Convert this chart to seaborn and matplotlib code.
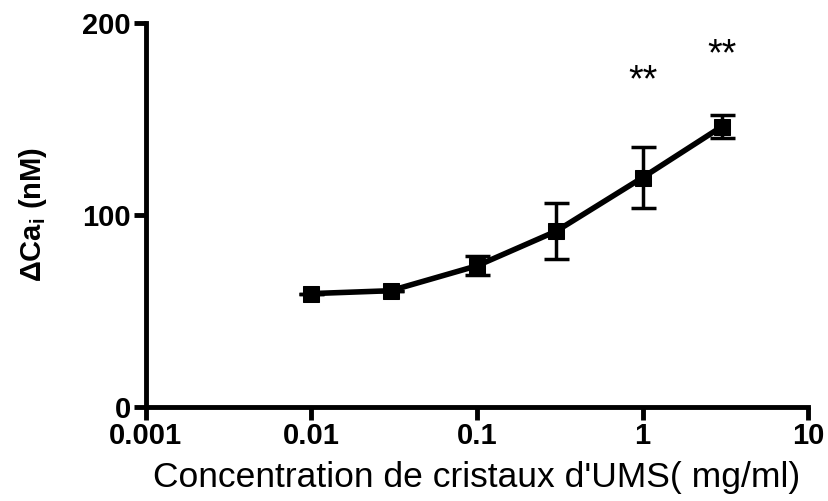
import matplotlib
matplotlib.use("Agg")
import matplotlib.pyplot as plt
import seaborn as sns
import pandas as pd
import numpy as np

conc = [0.01, 0.03, 0.1, 0.3, 1, 3]
mean_ca = [59, 60.5, 73.5, 91.5, 119.5, 146]
sem_ca = [0, 0, 5, 14.5, 16, 6]
stars_x = [1, 3]
stars_label = ["**", "**"]
stars_y = [169.5, 183]

sns.set_style("ticks")
plt.rcParams['font.family'] = ['Liberation Sans', 'DejaVu Sans']
plt.rcParams['mathtext.default'] = 'regular'

df = pd.DataFrame({"conc": conc, "ca": mean_ca, "sem": sem_ca})

fig = plt.figure(figsize=(8.29, 5.01), dpi=100)
ax = fig.add_axes([0.176, 0.188, 0.799, 0.766])

ax.errorbar(df["conc"], df["ca"], yerr=df["sem"], fmt="none", ecolor="black",
            elinewidth=2.5, capsize=9, capthick=2.5, zorder=2)
sns.lineplot(data=df, x="conc", y="ca", ax=ax, color="black", linewidth=4,
             marker="s", markersize=11, markeredgecolor="black", zorder=3)

ax.set_xscale("log")
ax.set_xlim(0.001, 10)
ax.set_ylim(0, 200)
ax.set_xticks([0.001, 0.01, 0.1, 1, 10])
ax.set_xticklabels(["0.001", "0.01", "0.1", "1", "10"])
ax.minorticks_off()
ax.set_yticks([0, 100, 200])

for sx, sl, sy in zip(stars_x, stars_label, stars_y):
    ax.text(sx, sy, sl, ha="center", va="center", fontsize=27, color="black")

for s in ["top", "right"]:
    ax.spines[s].set_visible(False)
for s in ["left", "bottom"]:
    ax.spines[s].set_linewidth(3.5)
    ax.spines[s].set_color("black")
ax.tick_params(axis="both", width=3.5, length=9, labelsize=21, direction="out",
               pad=2, color="black", labelcolor="black")
for lab in ax.get_xticklabels() + ax.get_yticklabels():
    lab.set_fontweight("bold")

ax.set_xlabel("Concentration de cristaux d'UMS( mg/ml)", fontsize=25.5,
              labelpad=8, color="black")
ax.set_ylabel(r"$\Delta$Ca$_\mathregular{i}$ (nM)", fontsize=21,
              fontweight="bold", labelpad=24, color="black")

fig.savefig("out.png", dpi=100)
